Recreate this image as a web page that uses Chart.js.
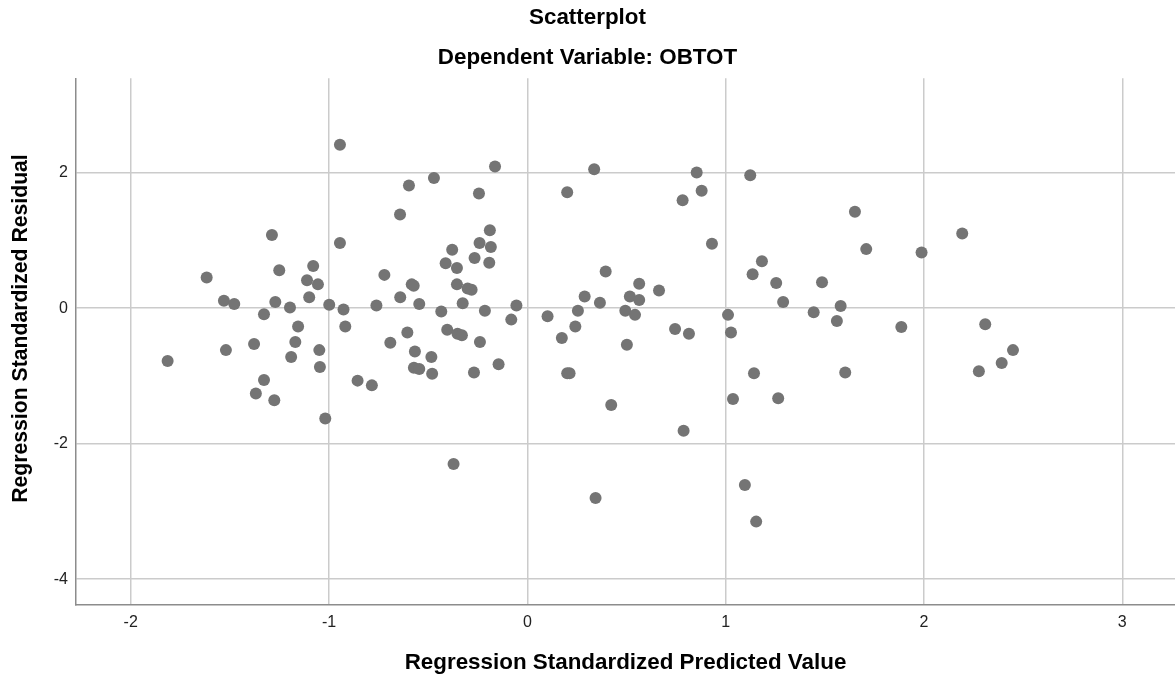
<!DOCTYPE html>
<html>
<head>
<meta charset="utf-8">
<title>Scatterplot</title>
<script src="https://cdn.jsdelivr.net/npm/chart.js@4/dist/chart.umd.min.js"></script>
<style>
  html, body { margin: 0; padding: 0; background: #fff; }
  #wrap { width: 1175px; height: 679px; }
</style>
</head>
<body>
<div id="wrap"><canvas id="chart" width="1175" height="679"></canvas></div>
<script>
// Regression Standardized Predicted Value (x) and Standardized Residual (y)
const predicted = [
  -1.814, -1.617, -1.530, -1.478, -1.520, -1.378, -1.328, -1.369, -1.276, -1.288,
  -1.251, -1.271, -1.328, -1.197, -1.156, -1.170, -1.191, -1.111, -1.100, -1.080,
  -1.056, -1.049, -1.046, -0.999, -1.019, -0.945, -0.945, -0.927, -0.918, -0.856,
  -0.784, -0.761, -0.721, -0.691, -0.642, -0.597, -0.471, -0.641, -0.605, -0.583,
  -0.573, -0.567, -0.572, -0.545, -0.545, -0.484, -0.480, -0.434, -0.412, -0.404,
  -0.379, -0.372, -0.355, -0.355, -0.352, -0.330, -0.326, -0.301, -0.281, -0.266,
  -0.269, -0.244, -0.241, -0.239, -0.214, -0.192, -0.189, -0.184, -0.163, -0.145,
  -0.081, -0.055,  0.102,  0.174,  0.201,  0.201,  0.213,  0.242,  0.255,  0.289,
   0.337,  0.344,  0.366,  0.395,  0.423,  0.494,  0.502,  0.517,  0.543,  0.564,
   0.564,  0.664,  0.745,  0.783,  0.788,  0.815,  0.854,  0.879,  0.931,  1.012,
   1.027,  1.037,  1.097,  1.124,  1.136,  1.143,  1.154,  1.183,  1.255,  1.265,
   1.290,  1.444,  1.486,  1.561,  1.580,  1.603,  1.652,  1.709,  1.886,  1.988,
   2.193,  2.277,  2.309,  2.392,  2.449
];
const residual = [
  -0.78,  0.45,  0.11,  0.06, -0.62, -0.53, -1.06, -1.26, -1.36,  1.08,
   0.56,  0.09, -0.09,  0.01, -0.27, -0.50, -0.72,  0.41,  0.16,  0.62,
   0.35, -0.62, -0.87,  0.05, -1.63,  2.41,  0.96, -0.02, -0.27, -1.07,
  -1.14,  0.04,  0.49, -0.51,  1.38,  1.81,  1.92,  0.16, -0.36,  0.35,
   0.33, -0.64, -0.88, -0.90,  0.06, -0.72, -0.97, -0.05,  0.66, -0.32,
   0.86, -2.30,  0.59,  0.35, -0.38, -0.40,  0.07,  0.29,  0.27,  0.74,
  -0.95,  1.69,  0.96, -0.50, -0.04,  0.67,  1.15,  0.90,  2.09, -0.83,
  -0.17,  0.04, -0.12, -0.44,  1.71, -0.96, -0.96, -0.27, -0.04,  0.17,
   2.05, -2.80,  0.08,  0.54, -1.43, -0.04, -0.54,  0.17, -0.10,  0.36,
   0.12,  0.26, -0.31,  1.59, -1.81, -0.38,  2.00,  1.73,  0.95, -0.10,
  -0.36, -1.34, -2.61,  1.96,  0.50, -0.96, -3.15,  0.69,  0.37, -1.33,
   0.09, -0.06,  0.38, -0.19,  0.03, -0.95,  1.42,  0.87, -0.28,  0.82,
   1.10, -0.93, -0.24, -0.81, -0.62
];

const chartTitle = 'Scatterplot';
const chartSubtitle = 'Dependent Variable: OBTOT';
const xTitle = 'Regression Standardized Predicted Value';
const yTitle = 'Regression Standardized Residual';

const FONT = "'Liberation Sans', Arial, sans-serif";
const GRID = '#cbcbcb';
const AXIS = '#8c8c8c';

const points = predicted.map((x, i) => ({ x, y: residual[i] }));

// SPSS puts the y title a little above the plot's middle, so draw it ourselves
const yTitlePlugin = {
  id: 'yTitle',
  afterDraw(chart) {
    const ctx = chart.ctx;
    ctx.save();
    ctx.translate(21, 328.5);
    ctx.rotate(-Math.PI / 2);
    ctx.font = `bold 21.2px ${FONT}`;
    ctx.fillStyle = '#000';
    ctx.textAlign = 'center';
    ctx.textBaseline = 'middle';
    ctx.fillText(yTitle, 0, 0);
    ctx.restore();
  },
};

new Chart(document.getElementById('chart'), {
  type: 'scatter',
  data: {
    datasets: [{
      label: 'Residuals',
      data: points,
      backgroundColor: '#747474',
      borderColor: '#747474',
      borderWidth: 0,
      pointRadius: 6,
      pointHoverRadius: 6,
    }],
  },
  options: {
    responsive: false,
    animation: false,
    devicePixelRatio: 1,
    layout: { autoPadding: false, padding: 0 },
    plugins: {
      legend: { display: false },
      tooltip: { enabled: false },
      title: {
        display: true,
        text: chartTitle,
        color: '#000',
        font: { family: FONT, size: 22.4, weight: 'bold', lineHeight: 36 / 22.4 },
        padding: { top: 0, bottom: 4 },
      },
      subtitle: {
        display: true,
        text: chartSubtitle,
        color: '#000',
        font: { family: FONT, size: 22.4, weight: 'bold', lineHeight: 36 / 22.4 },
        padding: { top: 0, bottom: 2.3 },
      },
    },
    scales: {
      x: {
        type: 'linear',
        min: -2.276,
        max: 3.266,
        afterFit(scale) { scale.height = 74; },
        grid: { color: GRID, lineWidth: 1.5, drawTicks: false },
        border: { display: true, color: AXIS, width: 1.5 },
        ticks: {
          stepSize: 1,
          includeBounds: false,
          padding: 8,
          color: '#222',
          font: { family: FONT, size: 16 },
        },
        title: {
          display: true,
          text: xTitle,
          color: '#000',
          font: { family: FONT, size: 22.4, weight: 'bold' },
          padding: { top: 8.86, bottom: 3.06 },
        },
      },
      y: {
        type: 'linear',
        min: -4.38,
        max: 3.39,
        afterFit(scale) { scale.width = 76; },
        grid: { color: GRID, lineWidth: 1.5, drawTicks: false },
        border: { display: true, color: AXIS, width: 1.5 },
        ticks: {
          stepSize: 2,
          includeBounds: false,
          padding: 8,
          color: '#222',
          font: { family: FONT, size: 16 },
        },
        title: { display: false },
      },
    },
  },
  plugins: [yTitlePlugin],
});
</script>
</body>
</html>
